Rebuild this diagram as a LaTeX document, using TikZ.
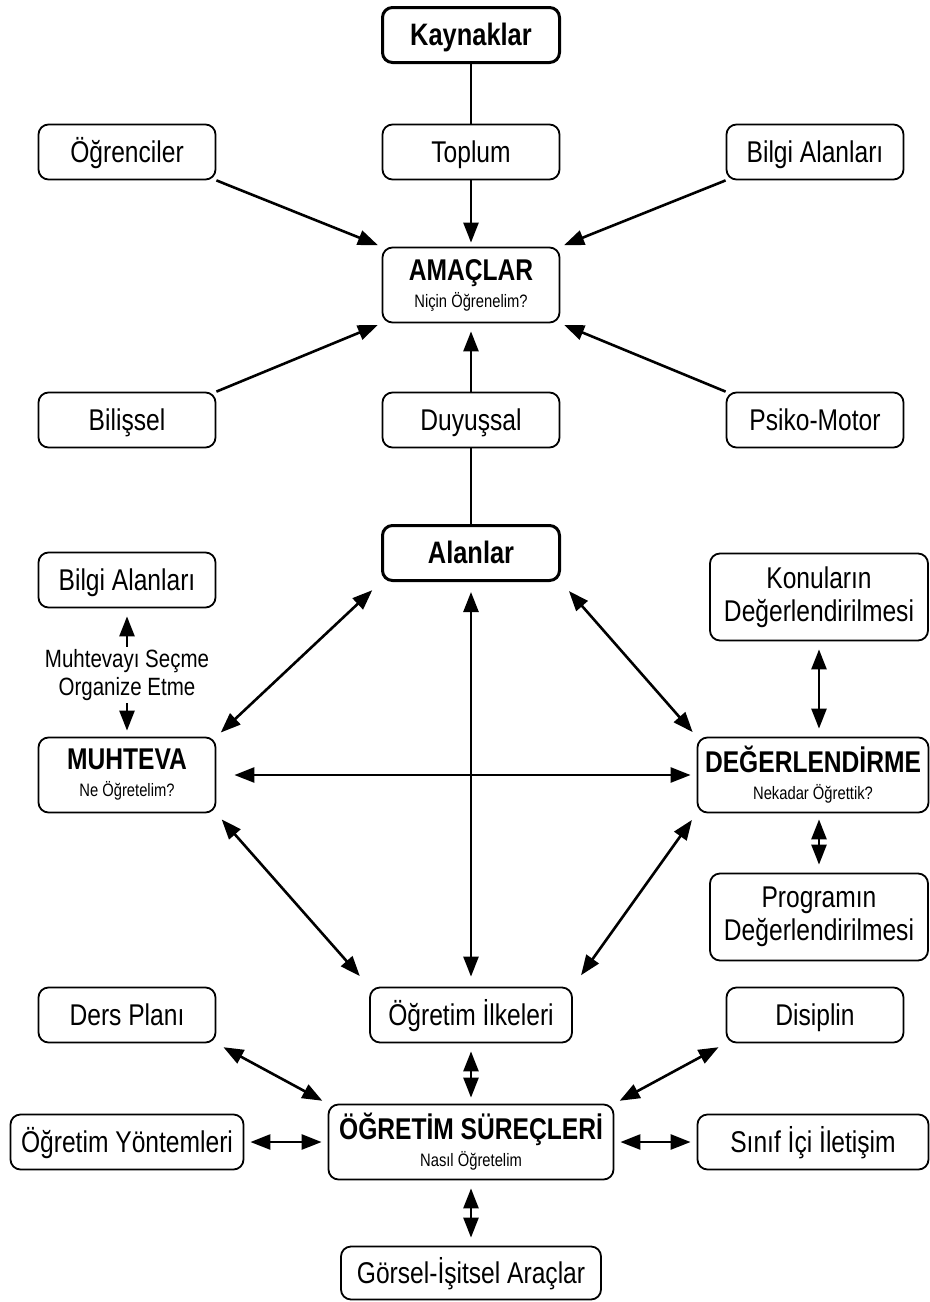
\documentclass[tikz,border=0pt]{standalone}
\usepackage{fontspec}
\setmainfont{Liberation Sans}[FakeStretch=0.82]
\usetikzlibrary{arrows.meta,calc}
\tikzset{
    kutu/.style = {draw, rounded corners=5pt, line width=0.9pt,
        minimum height=27.5pt,
        minimum width=88.5pt, align=center, inner sep=2pt,
        text height=12pt, text depth=1.5pt,
        font=\fontsize{15}{16.5}\selectfont},
    ikisatir/.style = {text height=, text depth=},
    anakutu/.style = {kutu, line width=1.5pt, font=\bfseries\fontsize{15.5}{17}\selectfont},
    baskutu/.style = {kutu, ikisatir, minimum height=37.5pt},
    ok/.style = {draw, line width=1.3pt, -{Triangle[length=10pt,width=7.5pt]}},
    ciftok/.style = {draw, line width=1.3pt, {Triangle[length=10pt,width=7.5pt]}-{Triangle[length=10pt,width=7.5pt]}},
    cizgi/.style = {draw, line width=1.3pt}
}
\newcommand{\baslik}[2]{{\bfseries\fontsize{15}{17}\selectfont #1}\\[-3pt]{\fontsize{9}{10}\selectfont #2}}

\begin{document}
\begin{tikzpicture}[x=0.5pt,y=-0.5pt]
            \useasboundingbox (0,0) rectangle (930,1302);
            % kaynaklar ve amaclar
            \node[anakutu] (kayn) at (471,35) {Kaynaklar};
            \node[kutu] (toplum) at (471,152) {Toplum};
            \node[kutu] (ogrenci) at (127,152) {Öğrenciler};
            \node[kutu] (bilgiA) at (815,152) {Bilgi Alanları};
            \node[baskutu] (amac) at (471,285) {\baslik{AMAÇLAR}{Niçin Öğrenelim?}};
            \node[kutu] (bilissel) at (127,420) {Bilişsel};
            \node[kutu] (duyus) at (471,420) {Duyuşsal};
            \node[kutu] (psiko) at (815,420) {Psiko-Motor};
            \draw [cizgi] (kayn) -- (toplum);
            \draw [ok,shorten >=2pt] (toplum) -- (amac);
            \draw [ok,shorten >=2pt] (ogrenci.south east) -- (amac.north west);
            \draw [ok,shorten >=2pt] (bilgiA.south west) -- (amac.north east);
            \draw [ok,shorten >=2pt] (bilissel.north east) -- (amac.south west);
            \draw [ok,shorten >=2pt] (psiko.north west) -- (amac.south east);
            \draw [ok,shorten >=4pt] (duyus) -- (amac);
            % alanlar
            \node[anakutu] (alan) at (471,553) {Alanlar};
            \draw [cizgi] (duyus) -- (alan);
            \node[kutu] (bilgiM) at (127,580) {Bilgi Alanları};
            \node[align=center, inner sep=1pt, font=\fontsize{12.5}{14}\selectfont] (secme) at (127,675) {Muhtevayı Seçme\\Organize Etme};
            \node[baskutu] (muht) at (127,775) {\baslik{MUHTEVA}{Ne Öğretelim?}};
            \node[kutu, ikisatir, minimum width=109pt, minimum height=43.5pt] (konu) at (819,597) {Konuların\\Değerlendirilmesi};
            \node[baskutu, minimum width=115.5pt] (deger) at (813,775) {\baslik{DEĞERLENDİRME}{Nekadar Öğrettik?}};
            \node[kutu, ikisatir, minimum width=109pt, minimum height=43.5pt] (prog) at (819,917) {Programın\\Değerlendirilmesi};
            \node[kutu, minimum width=101pt] (ilke) at (471,1015) {Öğretim İlkeleri};
            \draw [ok,shorten >=4pt] (secme) -- (bilgiM);
            \draw [ok,shorten >=3pt] (secme) -- (muht);
            \draw [ciftok,shorten <=6pt,shorten >=3pt] (alan.south west) -- (muht.north east);
            \draw [ciftok,shorten <=6pt,shorten >=3pt] (alan.south east) -- (deger.north west);
            \draw [ciftok,shorten <=5pt,shorten >=5pt] (alan) -- (ilke);
            \draw [ciftok,shorten <=9pt,shorten >=3pt] (muht.east) -- (deger.west);
            \draw [ciftok,shorten <=4pt,shorten >=7pt] (muht.south east) -- (ilke.north west);
            \draw [ciftok,shorten <=4pt,shorten >=7pt] (deger.south west) -- (ilke.north east);
            \draw [ciftok,shorten <=4pt,shorten >=4pt] (konu.south) -- (konu.south |- deger.north);
            \draw [ciftok,shorten <=3pt,shorten >=4pt] (konu.south |- deger.south) -- (prog.north);
            % ogretim surecleri
            \node[kutu] (ders) at (127,1015) {Ders Planı};
            \node[kutu] (disip) at (815,1015) {Disiplin};
            \node[baskutu, minimum width=142.5pt] (surec) at (471,1142) {\baslik{ÖĞRETİM SÜREÇLERİ}{Nasıl Öğretelim}};
            \node[kutu, minimum width=116.5pt] (yontem) at (127,1142) {Öğretim Yöntemleri};
            \node[kutu, minimum width=115.5pt] (sinif) at (813,1142) {Sınıf İçi İletişim};
            \node[kutu, minimum width=130pt, minimum height=26.5pt] (gorsel) at (471,1273) {Görsel-İşitsel Araçlar};
            \draw [ciftok,shorten <=4pt,shorten >=3pt] (ilke) -- (surec);
            \draw [ciftok,shorten <=4pt,shorten >=3pt] (ders.south east) -- (surec.north west);
            \draw [ciftok,shorten <=4pt,shorten >=3pt] (disip.south west) -- (surec.north east);
            \draw [ciftok,shorten <=3pt,shorten >=3pt] (yontem) -- (surec);
            \draw [ciftok,shorten <=3pt,shorten >=3pt] (surec) -- (sinif);
            \draw [ciftok,shorten <=4pt,shorten >=4pt] (surec) -- (gorsel);
        \end{tikzpicture}
\end{document}
